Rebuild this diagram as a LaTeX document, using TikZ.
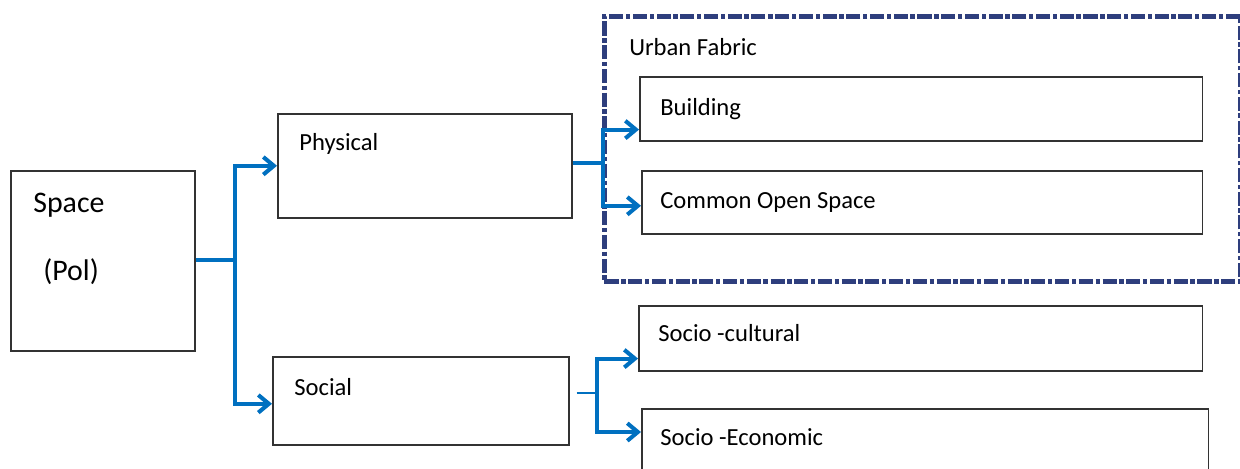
\documentclass[tikz,border=0pt]{standalone}
\usepackage{fontspec}
\setmainfont{Carlito}
\usetikzlibrary{arrows.meta}
\definecolor{flowblue}{RGB}{0,112,192}
\definecolor{navy}{RGB}{46,62,125}

\begin{document}
\begin{tikzpicture}[x=0.02cm,y=-0.02cm,
    box/.style={draw=black!80,line width=0.9pt,anchor=north west,inner sep=0pt},
    txt/.style={anchor=base west,inner sep=0pt,font=\fontsize{14}{16}\selectfont},
    flow/.style={flowblue,line width=2.3pt,-{Straight Barb[length=6pt,width=10pt,line width=2.3pt]}}]
                    \useasboundingbox (0,0) rectangle (1240,468);

                    % urban fabric frame
                    \node[box,draw=navy,line width=2.8pt,dash pattern=on 8pt off 1.5pt on 2.5pt off 1.5pt,
                          minimum width=12.72cm,minimum height=5.3cm] (urban) at (602,14) {};
                    \node[txt] (urbanlbl) at (629,55) {Urban Fabric};

                    % boxes
                    \node[box,minimum width=3.68cm,minimum height=3.6cm] (space) at (10,170) {};
                    \node[box,minimum width=5.88cm,minimum height=2.08cm] (phys) at (277,113) {};
                    \node[box,minimum width=5.92cm,minimum height=1.76cm] (soc) at (272,356) {};
                    \node[box,minimum width=11.26cm,minimum height=1.28cm] (bld) at (639,76) {};
                    \node[box,minimum width=11.22cm,minimum height=1.26cm] (cos) at (641,170) {};
                    \node[box,minimum width=11.28cm,minimum height=1.3cm] (scul) at (638,305) {};
                    \node[box,minimum width=11.34cm,minimum height=1.6cm] (secon) at (641,408) {};

                    % texts
                    \node[txt,font=\fontsize{17}{20}\selectfont] (spacelbl) at (33,212) {Space};
                    \node[txt,font=\fontsize{17}{20}\selectfont] (pollbl) at (43,280) {(Pol)};
                    \node[txt] (physlbl) at (299,150) {Physical};
                    \node[txt] (soclbl) at (294,395) {Social};
                    \node[txt] (bldlbl) at (660,115) {Building};
                    \node[txt] (coslbl) at (660,208) {Common Open Space};
                    \node[txt] (scullbl) at (658,341) {Socio -cultural};
                    \node[txt] (seconlbl) at (660,445) {Socio -Economic};

                    % connectors
                    \coordinate (j1) at (235,260);
                    \coordinate (j2) at (603,163);
                    \coordinate (j3) at (597,393);
                    \draw[flowblue,line width=2.3pt] (space.east |- j1) -- (j1);
                    \draw[flow] (j1) |- (phys.west);
                    \draw[flow] (j1) |- ([yshift=-0.06cm]soc.west);
                    \draw[flowblue,line width=2.3pt] (phys.east |- j2) -- (j2);
                    \draw[flow] (j2) |- ([yshift=0.24cm]bld.south west);
                    \draw[flow] (j2) |- ([yshift=-0.07cm]cos.west);
                    \draw[flowblue,line width=1.1pt] ([xshift=0.14cm]soc.east |- j3) -- (j3);
                    \draw[flow] (j3) |- ([yshift=0.26cm]scul.south west);
                    \draw[flow] (j3) |- ([yshift=-0.48cm]secon.north west);
\end{tikzpicture}
\end{document}
